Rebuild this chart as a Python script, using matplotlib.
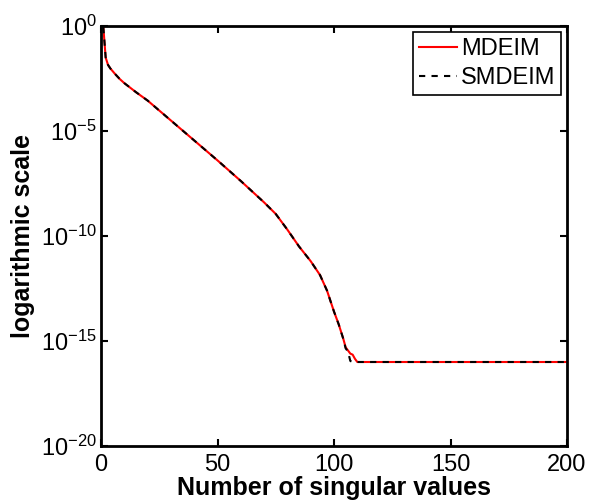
import numpy as np
import matplotlib
matplotlib.use('Agg')
import matplotlib.pyplot as plt
from matplotlib.ticker import FixedLocator, NullLocator

plt.rcParams['font.family'] = ['Liberation Sans', 'DejaVu Sans']
plt.rcParams['mathtext.fontset'] = 'custom'
plt.rcParams['mathtext.rm'] = 'Liberation Sans'
plt.rcParams['mathtext.it'] = 'Liberation Sans:italic'
plt.rcParams['mathtext.bf'] = 'Liberation Sans:bold'

# singular value index and log10 of the singular values
x_mdeim = [1, 2, 3, 4, 6, 8, 10, 15, 20, 30, 40, 50, 60, 70, 75, 80, 85, 90,
           94, 97, 100, 102, 104, 105, 106, 107, 108, 109, 110, 200]
log_mdeim = [-0.05, -1.5, -1.85, -2.02, -2.28, -2.52, -2.72, -3.15, -3.55, -4.5,
             -5.45, -6.4, -7.38, -8.4, -8.95, -9.7, -10.5, -11.2, -11.86, -12.6,
             -13.6, -14.2, -14.9, -15.3, -15.45, -15.6, -15.65, -15.85, -16.0, -16.0]

x_smdeim = [1, 2, 3, 4, 6, 8, 10, 15, 20, 30, 40, 50, 60, 70, 75, 80, 85, 90,
            94, 97, 100, 102, 104, 105, 106, 107, 108, 200]
log_smdeim = [-0.05, -1.5, -1.85, -2.02, -2.28, -2.52, -2.72, -3.15, -3.55, -4.5,
              -5.45, -6.4, -7.38, -8.4, -8.95, -9.7, -10.5, -11.2, -11.86, -12.6,
              -13.6, -14.2, -14.9, -15.35, -15.5, -15.95, -16.0, -16.0]

xticks = [0, 50, 100, 150, 200]
yticks = [1e-20, 1e-15, 1e-10, 1e-5, 1e0]
ytick_labels = [r'$10^{-20}$', r'$10^{-15}$', r'$10^{-10}$', r'$10^{-5}$', r'$10^{0}$']

y_mdeim = 10.0 ** np.array(log_mdeim)
y_smdeim = 10.0 ** np.array(log_smdeim)

fig = plt.figure(figsize=(5.89, 5.04), dpi=100)
ax = fig.add_axes([101 / 589, 1 - 446 / 504, 466 / 589, 420 / 504])

ax.semilogy(x_mdeim, y_mdeim, color='red', linewidth=1.5, linestyle='-', label='MDEIM')
ax.semilogy(x_smdeim, y_smdeim, color='black', linewidth=1.5, linestyle=(0, (3, 3)), label='SMDEIM')

ax.set_xlim(0, 200)
ax.set_ylim(1e-20, 1e0)
ax.xaxis.set_major_locator(FixedLocator(xticks))
ax.yaxis.set_major_locator(FixedLocator(yticks))
ax.yaxis.set_minor_locator(NullLocator())
ax.set_yticklabels(ytick_labels)

ax.tick_params(direction='in', length=5, width=1.5, top=True, right=True, labelsize=17)
ax.tick_params(axis='x', pad=6)
ax.tick_params(axis='y', pad=3)
for s in ax.spines.values():
    s.set_linewidth(2)

ax.set_xlabel('Number of singular values', fontsize=18, fontweight='bold', labelpad=0)
ax.set_ylabel('logarithmic scale', fontsize=18, fontweight='bold', labelpad=4)

leg = ax.legend(loc='upper right', fontsize=17, frameon=True, fancybox=False,
                borderpad=0.25, labelspacing=0.3, handlelength=1.6, handletextpad=0.15,
                borderaxespad=0.25, framealpha=1)
leg.get_frame().set_edgecolor('black')
leg.get_frame().set_linewidth(1.2)

fig.savefig('out.png', dpi=100)
